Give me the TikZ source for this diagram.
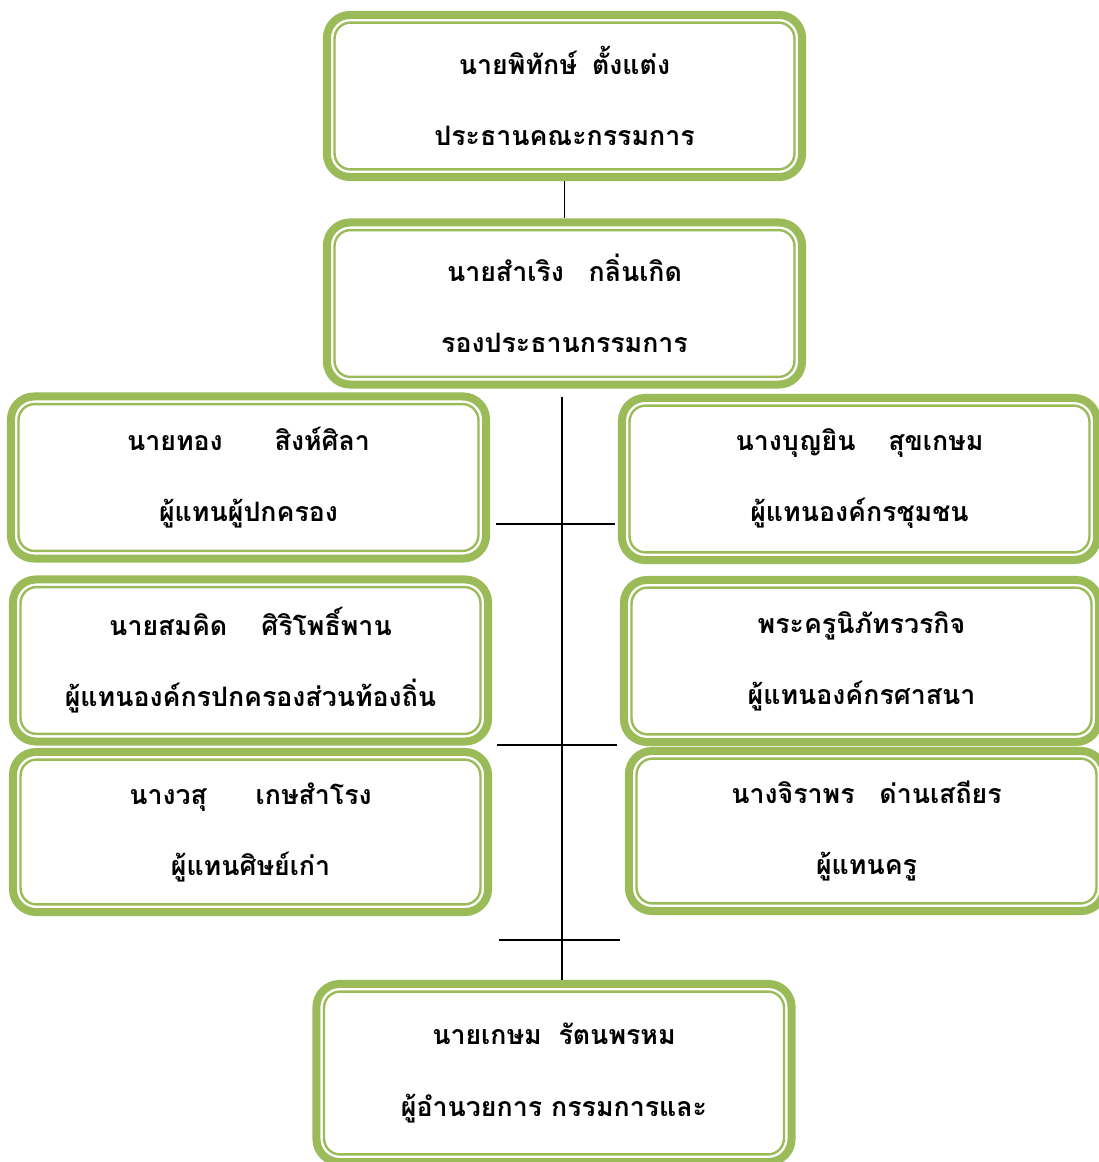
\documentclass[tikz,border=0pt]{standalone}
\usepackage{fontspec}
\newfontfamily\thaifont[Script=Thai]{Loma}
\usepackage{tikz}
\usetikzlibrary{calc}
\definecolor{boardgreen}{RGB}{155,187,89}

\tikzset{
	member/.style={rectangle, draw=boardgreen, line width=5.7pt, rounded corners=0.575cm,
		fill=white, minimum width=11.875cm, minimum height=4.05cm, inner sep=0pt, outer sep=0pt,
		align=center, font=\thaifont\bfseries\fontsize{19}{50.5}\selectfont},
	rim/.style={draw=boardgreen, line width=1.7pt, rounded corners=0.4cm},
	link/.style={draw=black, line width=1.4pt}
}

\begin{document}
\begin{tikzpicture}[x=0.025cm, y=-0.025cm]
	\useasboundingbox (0,0) rectangle (1098,1162);
	
	\node[member] (chair) at (564.5,96) {นายพิทักษ์\hspace{0.38cm}ตั้งแต่ง\\ประธานคณะกรรมการ};
	\node[member] (vice) at (564.5,303.5) {นายสำเริง\hspace{0.62cm}กลิ่นเกิด\\รองประธานกรรมการ};
	
	\node[member] (parent) at (248.5,477.5) {นายทอง\hspace{1.3cm}สิงห์ศิลา\\ผู้แทนผู้ปกครอง};
	\node[member] (local) at (250.5,660.5) {นายสมคิด\hspace{0.85cm}ศิริโพธิ์พาน\\ผู้แทนองค์กรปกครองส่วนท้องถิ่น};
	\node[member, minimum height=4cm] (alumni) at (250.5,832) {นางวสุ\hspace{1.22cm}เกษสำโรง\\ผู้แทนศิษย์เก่า};
	
	\node[member] (community) at (859.5,479) {นางบุญยิน\hspace{0.82cm}สุขเกษม\\ผู้แทนองค์กรชุมชน};
	\node[member] (religion) at (861.5,661) {พระครูนิภัทรวรกิจ\\ผู้แทนองค์กรศาสนา};
	\node[member, minimum height=4cm] (teacher) at (866.5,831) {นางจิราพร\hspace{0.62cm}ด่านเสถียร\\ผู้แทนครู};
	
	\node[member, minimum height=4.45cm] (director) at (554,1073) {นายเกษม\hspace{0.42cm}รัตนพรหม\\ผู้อำนวยการ กรรมการและ};
	
	% inner thin line of every box
	\foreach \m in {chair,vice,parent,local,alumni,community,religion,teacher,director}
	{
		\draw[rim] ($(\m.north west)+(0.19cm,-0.19cm)$) rectangle ($(\m.south east)+(-0.19cm,0.19cm)$);
	}
	
	\coordinate (trunk) at (562,397);
	\coordinate (tick1) at (562,524);
	\coordinate (tick2) at (562,745);
	\coordinate (tick3) at (562,940);
	
	\draw[link, shorten <=0.1cm, shorten >=0.1cm] (chair) -- (vice);
	\draw[link, shorten >=0.1cm] (trunk) -- (trunk |- director.north);
	\draw[link, shorten <=0.25cm, shorten >=0.175cm] (tick1 -| parent.east) -- (tick1 -| community.west);
	\draw[link, shorten <=0.225cm, shorten >=0.175cm] (tick2 -| local.east) -- (tick2 -| religion.west);
	\draw[link, shorten <=0.275cm, shorten >=0.225cm] (tick3 -| alumni.east) -- (tick3 -| teacher.west);
\end{tikzpicture}
\end{document}
